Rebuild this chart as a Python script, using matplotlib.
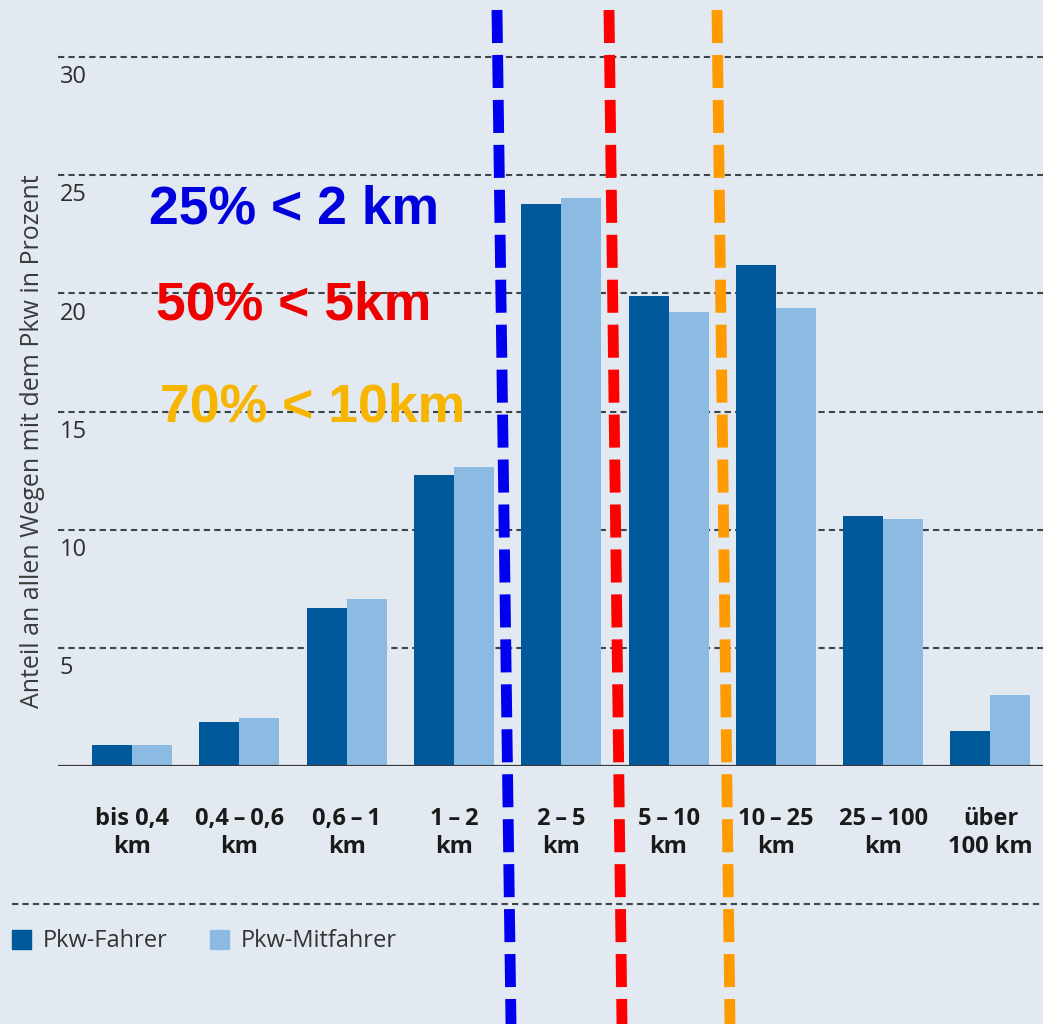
import matplotlib
matplotlib.use("Agg")
import matplotlib.pyplot as plt
from matplotlib.patches import Rectangle
from matplotlib.lines import Line2D
import numpy as np

# Distance bands and shares of car trips (percent)
categories = ["bis 0,4\nkm", "0,4\u2009\u2013\u20090,6\nkm", "0,6\u2009\u2013\u20091\nkm",
              "1\u2009\u2013\u20092\nkm", "2\u2009\u2013\u20095\nkm", "5\u2009\u2013\u200910\nkm",
              "10\u2009\u2013\u200925\nkm", "25\u2009\u2013\u2009100\nkm", "über\n100 km"]
fahrer = [0.9, 1.85, 6.7, 12.3, 23.8, 19.9, 21.2, 10.6, 1.5]
mitfahrer = [0.9, 2.05, 7.05, 12.65, 24.05, 19.2, 19.4, 10.45, 3.0]
series_names = ["Pkw-Fahrer", "Pkw-Mitfahrer"]
yticks = [5, 10, 15, 20, 25, 30]
ylabel = "Anteil an allen Wegen mit dem Pkw in Prozent"
callouts = ["25% < 2 km", "50% < 5km", "70% < 10km"]

BG = "#e2e9f1"
DARK = "#00599a"
LIGHT = "#8bbbe3"
TXT = "#2e2e2e"
W, H = 1043, 1024

plt.rcParams["font.family"] = ["Open Sans", "DejaVu Sans"]

fig = plt.figure(figsize=(W / 100, H / 100), dpi=100, facecolor=BG)
ax = fig.add_axes([58 / W, 1 - 766 / H, (W - 58) / W, 766 / H])
ax.set_facecolor(BG)
for s in ax.spines.values():
    s.set_visible(False)
ax.set_xticks([])
ax.set_yticks([])

x = np.arange(len(categories))
bw = 0.373
ax.bar(x - bw / 2, fahrer, width=bw, color=DARK, zorder=3)
ax.bar(x + bw / 2, mitfahrer, width=bw, color=LIGHT, zorder=3)
ax.set_xlim(-0.69, 8.49)
ax.set_ylim(0, 32.42)

# dashed grid with values written just below each line
for v in yticks:
    ln = ax.axhline(v, color="#3f4448", lw=1.5, zorder=1)
    ln.set_dashes((3, 2))
    ax.annotate(str(v), xy=(0.002, v), xycoords=("axes fraction", "data"),
                xytext=(0, -14.5), textcoords="offset points",
                ha="left", va="center", fontsize=17, color=TXT)
ax.axhline(0, color="#3a3a3a", lw=1.6, zorder=4)

# two-line category labels under the baseline
for i, lab in enumerate(categories):
    l1, l2 = lab.split("\n")
    for txt, off in ((l1, -38.0), (l2, -58.5)):
        ax.annotate(txt, xy=(i, 0), xycoords="data", xytext=(0, off),
                    textcoords="offset points", ha="center", va="center",
                    fontsize=17, fontweight="bold", color="#1a1a1a",
                    annotation_clip=False)

fig.text(33 / W, 1 - 441 / H, ylabel, rotation=90, ha="center", va="center",
         fontsize=18, color="#3a3a3a")

# separator above the legend
sep = Line2D([12 / W, 1], [1 - 904 / H] * 2, transform=fig.transFigure,
             color="#3f4448", lw=1.5)
sep.set_dashes((3, 2))
fig.add_artist(sep)

# legend
for (x0, tx), name, col in zip(((12, 43), (210, 241)), series_names, (DARK, LIGHT)):
    fig.add_artist(Rectangle((x0 / W, 1 - 949 / H), 19 / W, 19 / H,
                             transform=fig.transFigure, color=col))
    fig.text(tx / W, 1 - 941 / H, name, ha="left", va="center",
             fontsize=17, color="#333333")

# callouts
callout_style = [("#0000dd", 294, 224), ("#ee0000", 294, 320), ("#f7b500", 313, 421)]
for txt, (col, xp, yp) in zip(callouts, callout_style):
    fig.text(xp / W, 1 - yp / H, txt, ha="center", va="baseline",
             fontsize=38.5, fontweight="bold", color=col,
             family=["Liberation Sans", "DejaVu Sans"], zorder=6)

# thresholds drawn across the chart
for col, xt, xb in (("#0000ee", 497, 511), ("#ff0000", 609, 622), ("#ff9a00", 717, 730)):
    ln = Line2D([xt / W, xb / W], [1 - 10 / H, 0], transform=fig.transFigure,
                color=col, lw=7.8, solid_capstyle="butt", dash_capstyle="butt", zorder=10)
    ln.set_dashes((3.05, 1.1))
    fig.add_artist(ln)

fig.savefig("out.png", dpi=100, facecolor=BG)
